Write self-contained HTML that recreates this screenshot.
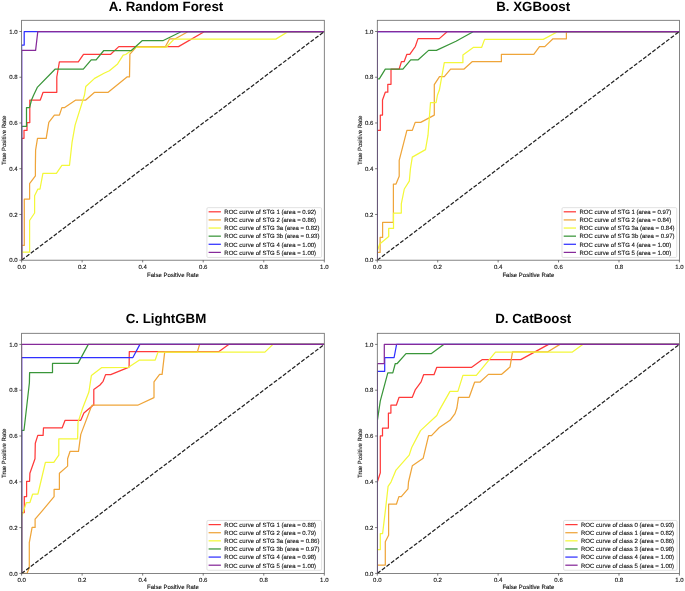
<!DOCTYPE html>
<html><head><meta charset="utf-8"><style>
html,body{margin:0;padding:0;background:#fff;}
svg{display:block;}
text{text-rendering:geometricPrecision;}
.t{font-family:"Liberation Sans",sans-serif;font-weight:bold;font-size:13.3px;fill:#000;}
.s{font-family:"Liberation Sans",sans-serif;font-size:6.03px;fill:#111;stroke:#111;stroke-width:0.12px;}
</style></head><body>
<svg width="685" height="591" viewBox="0 0 685 591">
<defs><clipPath id="cA"><rect x="21.6" y="20.3" width="302.7" height="239.9"/></clipPath><clipPath id="cB"><rect x="377.3" y="20.3" width="302.1" height="239.9"/></clipPath><clipPath id="cC"><rect x="21.6" y="333.3" width="302.7" height="240.1"/></clipPath><clipPath id="cD"><rect x="377.3" y="333.3" width="302.1" height="240.1"/></clipPath></defs>
<rect width="685" height="591" fill="#fff"/>
<g opacity="0.999">
<text x="166" y="11" class="t" text-anchor="middle">A. Random Forest</text>
<g clip-path="url(#cA)">
<polyline points="21.6,260.2 21.6,138.3 24,138.3 24,130.4 27,130.4 27,122.6 29.8,122.6 29.8,100 40.3,100 43.1,92.3 56.8,92.3 56.8,77 59.4,61.9 78.3,61.9 83.5,54.3 110.7,54.3 118.8,46.6 178.5,46.6 204.6,31.5 324.3,31.5" fill="none" stroke="#ff3a3a" stroke-width="1.25" stroke-linejoin="round" stroke-linecap="butt"/>
<polyline points="21.6,260.2 21.6,245.4 24.3,245.4 24.3,199 29.6,199 29.6,183.6 35.4,175.8 35.4,165 35.6,150.2 37.5,138.3 46.2,138.3 48.8,122.4 54.4,115.1 59.4,115.1 61.9,107.6 64.7,107.6 75.8,100 85.8,100 94.6,92.3 108.2,92.3 127,76.9 129.5,76.9 129.9,54.1 136.4,46.8 165.3,46.8 169.7,38.8 175.3,38.8 188.3,31.5 324.3,31.5" fill="none" stroke="#efa53a" stroke-width="1.25" stroke-linejoin="round" stroke-linecap="butt"/>
<polyline points="21.6,260.2 21.6,252 29.6,252 29.6,220.5 34.6,213 34.6,195.7 37.9,189 40,189 42.9,173.3 56.4,173.3 61.9,165.3 69.5,165.3 72,142.7 75.1,125.1 84.5,95 85.8,86.5 94.6,78.4 104,73.3 109.4,70.8 117.6,63.9 123.2,55.1 125.7,54.5 132,50.1 136.4,47 166.5,47 174.1,39.1 275.8,39.1 288.3,31.5 324.3,31.5" fill="none" stroke="#f3f83a" stroke-width="1.25" stroke-linejoin="round" stroke-linecap="butt"/>
<polyline points="21.6,260.2 21.6,126.4 26.5,126.4 26.5,107.6 29.6,107.6 31.5,100 33.7,95 37.5,87.1 55,69.2 83.3,69.2 91.2,59.8 96.1,59.8 103.8,50.5 131.4,50.5 142.1,40.7 162.8,40.7 181.6,31.5 324.3,31.5" fill="none" stroke="#3a963a" stroke-width="1.25" stroke-linejoin="round" stroke-linecap="butt"/>
<polyline points="21.6,260.2 21.6,45.1 24.2,45.1 24.2,31.5 324.3,31.5" fill="none" stroke="#3030ff" stroke-width="1.25" stroke-linejoin="round" stroke-linecap="butt"/>
<polyline points="21.6,260.2 21.6,50.4 35.6,50.4 37.8,31.5 324.3,31.5" fill="none" stroke="#862a9a" stroke-width="1.25" stroke-linejoin="round" stroke-linecap="butt"/>
<line x1="21.6" y1="260.2" x2="324.3" y2="31.5" stroke="#222" stroke-width="1.25" stroke-dasharray="4.02 1.73"/>
</g>
<rect x="21.6" y="20.3" width="302.7" height="239.9" fill="none" stroke="#666" stroke-width="0.8"/>
<line x1="21.6" y1="260.2" x2="21.6" y2="262.4" stroke="#444" stroke-width="0.7"/>
<text x="21.6" y="269" class="s" text-anchor="middle">0.0</text>
<line x1="19.4" y1="260.2" x2="21.6" y2="260.2" stroke="#444" stroke-width="0.7"/>
<text x="17.6" y="262.4" class="s" text-anchor="end">0.0</text>
<line x1="82.14" y1="260.2" x2="82.14" y2="262.4" stroke="#444" stroke-width="0.7"/>
<text x="82.14" y="269" class="s" text-anchor="middle">0.2</text>
<line x1="19.4" y1="214.46" x2="21.6" y2="214.46" stroke="#444" stroke-width="0.7"/>
<text x="17.6" y="216.66" class="s" text-anchor="end">0.2</text>
<line x1="142.68" y1="260.2" x2="142.68" y2="262.4" stroke="#444" stroke-width="0.7"/>
<text x="142.68" y="269" class="s" text-anchor="middle">0.4</text>
<line x1="19.4" y1="168.72" x2="21.6" y2="168.72" stroke="#444" stroke-width="0.7"/>
<text x="17.6" y="170.92" class="s" text-anchor="end">0.4</text>
<line x1="203.22" y1="260.2" x2="203.22" y2="262.4" stroke="#444" stroke-width="0.7"/>
<text x="203.22" y="269" class="s" text-anchor="middle">0.6</text>
<line x1="19.4" y1="122.98" x2="21.6" y2="122.98" stroke="#444" stroke-width="0.7"/>
<text x="17.6" y="125.18" class="s" text-anchor="end">0.6</text>
<line x1="263.76" y1="260.2" x2="263.76" y2="262.4" stroke="#444" stroke-width="0.7"/>
<text x="263.76" y="269" class="s" text-anchor="middle">0.8</text>
<line x1="19.4" y1="77.24" x2="21.6" y2="77.24" stroke="#444" stroke-width="0.7"/>
<text x="17.6" y="79.44" class="s" text-anchor="end">0.8</text>
<line x1="324.3" y1="260.2" x2="324.3" y2="262.4" stroke="#444" stroke-width="0.7"/>
<text x="324.3" y="269" class="s" text-anchor="middle">1.0</text>
<line x1="19.4" y1="31.5" x2="21.6" y2="31.5" stroke="#444" stroke-width="0.7"/>
<text x="17.6" y="33.7" class="s" text-anchor="end">1.0</text>
<text x="172.95" y="276.7" class="s" text-anchor="middle">False Positive Rate</text>
<text transform="translate(6.1 140.25) rotate(-90)" class="s" text-anchor="middle">True Positive Rate</text>
<rect x="206.9" y="207.65" width="114.7" height="49.8" rx="1.2" fill="#fff" fill-opacity="0.8" stroke="#d4d4d4" stroke-width="0.7"/>
<line x1="208.6" y1="211.8" x2="220.9" y2="211.8" stroke="#ff3a3a" stroke-width="1.25"/>
<text x="224.3" y="214.1" class="s">ROC curve of STG 1 (area = 0.92)</text>
<line x1="208.6" y1="219.92" x2="220.9" y2="219.92" stroke="#efa53a" stroke-width="1.25"/>
<text x="224.3" y="222.22" class="s">ROC curve of STG 2 (area = 0.86)</text>
<line x1="208.6" y1="228.04" x2="220.9" y2="228.04" stroke="#f3f83a" stroke-width="1.25"/>
<text x="224.3" y="230.34" class="s">ROC curve of STG 3a (area = 0.82)</text>
<line x1="208.6" y1="236.16" x2="220.9" y2="236.16" stroke="#3a963a" stroke-width="1.25"/>
<text x="224.3" y="238.46" class="s">ROC curve of STG 3b (area = 0.93)</text>
<line x1="208.6" y1="244.28" x2="220.9" y2="244.28" stroke="#3030ff" stroke-width="1.25"/>
<text x="224.3" y="246.58" class="s">ROC curve of STG 4 (area = 1.00)</text>
<line x1="208.6" y1="252.4" x2="220.9" y2="252.4" stroke="#862a9a" stroke-width="1.25"/>
<text x="224.3" y="254.7" class="s">ROC curve of STG 5 (area = 1.00)</text>
<text x="533.2" y="11" class="t" text-anchor="middle">B. XGBoost</text>
<g clip-path="url(#cB)">
<polyline points="377.3,260.2 377.3,130.4 380.3,130.4 380.3,115.1 382.5,115.1 382.5,100 385.3,92.2 387.8,92.2 387.8,84.3 391,84.3 391,69.2 399.1,69.2 401.4,61.7 404.1,61.7 406.9,54.3 409.8,54.3 415.4,46.3 418,38.6 439.3,38.6 447.4,31.5 679.4,31.5" fill="none" stroke="#ff3a3a" stroke-width="1.25" stroke-linejoin="round" stroke-linecap="butt"/>
<polyline points="377.3,260.2 377.3,252.4 380.1,252.4 380.1,237.4 382.6,237.4 382.6,222.3 393.4,222.3 393.4,184.1 396,184.1 399.2,176.3 399.2,160.3 406.9,130.4 412.3,130.4 415.2,122.4 420.7,122.4 434.3,115.1 434.3,84.6 439.5,76.7 444.3,76.7 450.6,69.2 463.8,69.2 472.1,61.7 501.4,61.7 501.4,54.3 533.8,54.3 539.5,46.6 544.8,46.6 553,38.8 566.4,38.8 566.4,31.5 679.4,31.5" fill="none" stroke="#efa53a" stroke-width="1.25" stroke-linejoin="round" stroke-linecap="butt"/>
<polyline points="377.3,260.2 377.3,251 379.7,243.9 388.7,236.5 388.7,228.4 393.5,228.4 393.5,213 401.3,213 401.3,203.9 404.3,189 409.3,181.2 410.4,169 412.3,157.1 425.5,149.6 428,135.2 430.5,102.5 436.1,102.5 437.5,95 439.3,90.3 444.3,62.7 462.9,62.7 462.9,54.9 473.6,47.3 481.7,47.3 484.6,39.4 543.3,39.4 558,31.5 679.4,31.5" fill="none" stroke="#f3f83a" stroke-width="1.25" stroke-linejoin="round" stroke-linecap="butt"/>
<polyline points="377.3,260.2 377.3,78.8 379.3,78.8 385.3,69.2 402.9,69.2 410.7,59.8 418.2,59.8 428.6,50.4 436.4,50.4 456,41.3 473.6,31.5 679.4,31.5" fill="none" stroke="#3a963a" stroke-width="1.25" stroke-linejoin="round" stroke-linecap="butt"/>
<polyline points="377.3,260.2 377.3,31.5 679.4,31.5" fill="none" stroke="#3030ff" stroke-width="1.25" stroke-linejoin="round" stroke-linecap="butt"/>
<polyline points="377.3,260.2 377.3,31.5 679.4,31.5" fill="none" stroke="#862a9a" stroke-width="1.25" stroke-linejoin="round" stroke-linecap="butt"/>
<line x1="377.3" y1="260.2" x2="679.4" y2="31.5" stroke="#222" stroke-width="1.25" stroke-dasharray="4.02 1.73"/>
</g>
<rect x="377.3" y="20.3" width="302.1" height="239.9" fill="none" stroke="#666" stroke-width="0.8"/>
<line x1="377.3" y1="260.2" x2="377.3" y2="262.4" stroke="#444" stroke-width="0.7"/>
<text x="377.3" y="269" class="s" text-anchor="middle">0.0</text>
<line x1="375.1" y1="260.2" x2="377.3" y2="260.2" stroke="#444" stroke-width="0.7"/>
<text x="373.3" y="262.4" class="s" text-anchor="end">0.0</text>
<line x1="437.72" y1="260.2" x2="437.72" y2="262.4" stroke="#444" stroke-width="0.7"/>
<text x="437.72" y="269" class="s" text-anchor="middle">0.2</text>
<line x1="375.1" y1="214.46" x2="377.3" y2="214.46" stroke="#444" stroke-width="0.7"/>
<text x="373.3" y="216.66" class="s" text-anchor="end">0.2</text>
<line x1="498.14" y1="260.2" x2="498.14" y2="262.4" stroke="#444" stroke-width="0.7"/>
<text x="498.14" y="269" class="s" text-anchor="middle">0.4</text>
<line x1="375.1" y1="168.72" x2="377.3" y2="168.72" stroke="#444" stroke-width="0.7"/>
<text x="373.3" y="170.92" class="s" text-anchor="end">0.4</text>
<line x1="558.56" y1="260.2" x2="558.56" y2="262.4" stroke="#444" stroke-width="0.7"/>
<text x="558.56" y="269" class="s" text-anchor="middle">0.6</text>
<line x1="375.1" y1="122.98" x2="377.3" y2="122.98" stroke="#444" stroke-width="0.7"/>
<text x="373.3" y="125.18" class="s" text-anchor="end">0.6</text>
<line x1="618.98" y1="260.2" x2="618.98" y2="262.4" stroke="#444" stroke-width="0.7"/>
<text x="618.98" y="269" class="s" text-anchor="middle">0.8</text>
<line x1="375.1" y1="77.24" x2="377.3" y2="77.24" stroke="#444" stroke-width="0.7"/>
<text x="373.3" y="79.44" class="s" text-anchor="end">0.8</text>
<line x1="679.4" y1="260.2" x2="679.4" y2="262.4" stroke="#444" stroke-width="0.7"/>
<text x="679.4" y="269" class="s" text-anchor="middle">1.0</text>
<line x1="375.1" y1="31.5" x2="377.3" y2="31.5" stroke="#444" stroke-width="0.7"/>
<text x="373.3" y="33.7" class="s" text-anchor="end">1.0</text>
<text x="528.35" y="276.7" class="s" text-anchor="middle">False Positive Rate</text>
<text transform="translate(361.8 140.25) rotate(-90)" class="s" text-anchor="middle">True Positive Rate</text>
<rect x="562" y="207.65" width="114.7" height="49.8" rx="1.2" fill="#fff" fill-opacity="0.8" stroke="#d4d4d4" stroke-width="0.7"/>
<line x1="563.7" y1="211.8" x2="576" y2="211.8" stroke="#ff3a3a" stroke-width="1.25"/>
<text x="579.4" y="214.1" class="s">ROC curve of STG 1 (area = 0.97)</text>
<line x1="563.7" y1="219.92" x2="576" y2="219.92" stroke="#efa53a" stroke-width="1.25"/>
<text x="579.4" y="222.22" class="s">ROC curve of STG 2 (area = 0.84)</text>
<line x1="563.7" y1="228.04" x2="576" y2="228.04" stroke="#f3f83a" stroke-width="1.25"/>
<text x="579.4" y="230.34" class="s">ROC curve of STG 3a (area = 0.84)</text>
<line x1="563.7" y1="236.16" x2="576" y2="236.16" stroke="#3a963a" stroke-width="1.25"/>
<text x="579.4" y="238.46" class="s">ROC curve of STG 3b (area = 0.97)</text>
<line x1="563.7" y1="244.28" x2="576" y2="244.28" stroke="#3030ff" stroke-width="1.25"/>
<text x="579.4" y="246.58" class="s">ROC curve of STG 4 (area = 1.00)</text>
<line x1="563.7" y1="252.4" x2="576" y2="252.4" stroke="#862a9a" stroke-width="1.25"/>
<text x="579.4" y="254.7" class="s">ROC curve of STG 5 (area = 1.00)</text>
<text x="166" y="322.9" class="t" text-anchor="middle">C. LightGBM</text>
<g clip-path="url(#cC)">
<polyline points="21.6,573.4 21.6,512.5 24.3,512.5 24.3,496.6 26.6,496.6 26.6,481.3 29.6,481.3 29.9,473.3 35,458.8 35.3,443.2 37.8,435.4 43.1,435.4 43.5,427.8 62.2,427.8 65.1,420.3 80.8,420.3 83.9,413 92.8,405.5 93.8,405.2 93.8,389.5 100,385 103.1,381.3 105.6,374.6 110.7,374.6 129.1,367.1 129.3,351.6 219,351.6 228.7,344.4 324.3,344.4" fill="none" stroke="#ff3a3a" stroke-width="1.25" stroke-linejoin="round" stroke-linecap="butt"/>
<polyline points="21.6,573.4 27.1,573.4 29.3,567.5 29.3,542.6 32.1,527.4 35.1,527.4 35.1,519.1 42,511.1 54.1,496.6 54.1,489.3 59.4,489.3 59.4,473.3 67.6,466.1 67.6,458.8 70.1,451.3 78.5,451.3 80.8,434.4 90.8,408 92.1,405.2 137.7,405.2 154,397.6 154,381.9 159.6,374.4 162.1,374.4 164.7,352.1 197.3,352.1 199.6,344.4 324.3,344.4" fill="none" stroke="#efa53a" stroke-width="1.25" stroke-linejoin="round" stroke-linecap="butt"/>
<polyline points="21.6,573.4 21.6,517 26.3,502.5 29.9,502.5 32.6,494.2 37.9,494.2 41,481 45.4,462.4 53.8,462.4 58.8,455.1 58.8,438.8 77.6,438.8 78,422.4 82.7,408 88.9,392 91.4,375.4 101.5,367.7 128.2,367.5 139.5,360 155.2,360 158,352.1 264.9,352.1 272.9,344.4 324.3,344.4" fill="none" stroke="#f3f83a" stroke-width="1.25" stroke-linejoin="round" stroke-linecap="butt"/>
<polyline points="21.6,573.4 21.6,430.3 24,430.3 29.4,382.8 29.6,372.5 52.5,372.5 52.5,363.4 78,363.4 88.3,344.4 324.3,344.4" fill="none" stroke="#3a963a" stroke-width="1.25" stroke-linejoin="round" stroke-linecap="butt"/>
<polyline points="21.6,573.4 21.6,357.5 132.9,357.5 139.9,344.4 324.3,344.4" fill="none" stroke="#3030ff" stroke-width="1.25" stroke-linejoin="round" stroke-linecap="butt"/>
<polyline points="21.6,573.4 21.6,344.4 324.3,344.4" fill="none" stroke="#862a9a" stroke-width="1.25" stroke-linejoin="round" stroke-linecap="butt"/>
<line x1="21.6" y1="573.4" x2="324.3" y2="344.4" stroke="#222" stroke-width="1.25" stroke-dasharray="4.02 1.73"/>
</g>
<rect x="21.6" y="333.3" width="302.7" height="240.1" fill="none" stroke="#666" stroke-width="0.8"/>
<line x1="21.6" y1="573.4" x2="21.6" y2="575.6" stroke="#444" stroke-width="0.7"/>
<text x="21.6" y="581.85" class="s" text-anchor="middle">0.0</text>
<line x1="19.4" y1="573.4" x2="21.6" y2="573.4" stroke="#444" stroke-width="0.7"/>
<text x="17.6" y="575.6" class="s" text-anchor="end">0.0</text>
<line x1="82.14" y1="573.4" x2="82.14" y2="575.6" stroke="#444" stroke-width="0.7"/>
<text x="82.14" y="581.85" class="s" text-anchor="middle">0.2</text>
<line x1="19.4" y1="527.6" x2="21.6" y2="527.6" stroke="#444" stroke-width="0.7"/>
<text x="17.6" y="529.8" class="s" text-anchor="end">0.2</text>
<line x1="142.68" y1="573.4" x2="142.68" y2="575.6" stroke="#444" stroke-width="0.7"/>
<text x="142.68" y="581.85" class="s" text-anchor="middle">0.4</text>
<line x1="19.4" y1="481.8" x2="21.6" y2="481.8" stroke="#444" stroke-width="0.7"/>
<text x="17.6" y="484" class="s" text-anchor="end">0.4</text>
<line x1="203.22" y1="573.4" x2="203.22" y2="575.6" stroke="#444" stroke-width="0.7"/>
<text x="203.22" y="581.85" class="s" text-anchor="middle">0.6</text>
<line x1="19.4" y1="436" x2="21.6" y2="436" stroke="#444" stroke-width="0.7"/>
<text x="17.6" y="438.2" class="s" text-anchor="end">0.6</text>
<line x1="263.76" y1="573.4" x2="263.76" y2="575.6" stroke="#444" stroke-width="0.7"/>
<text x="263.76" y="581.85" class="s" text-anchor="middle">0.8</text>
<line x1="19.4" y1="390.2" x2="21.6" y2="390.2" stroke="#444" stroke-width="0.7"/>
<text x="17.6" y="392.4" class="s" text-anchor="end">0.8</text>
<line x1="324.3" y1="573.4" x2="324.3" y2="575.6" stroke="#444" stroke-width="0.7"/>
<text x="324.3" y="581.85" class="s" text-anchor="middle">1.0</text>
<line x1="19.4" y1="344.4" x2="21.6" y2="344.4" stroke="#444" stroke-width="0.7"/>
<text x="17.6" y="346.6" class="s" text-anchor="end">1.0</text>
<text x="172.95" y="589.35" class="s" text-anchor="middle">False Positive Rate</text>
<text transform="translate(6.1 453.35) rotate(-90)" class="s" text-anchor="middle">True Positive Rate</text>
<rect x="206.9" y="520.45" width="114.7" height="49.8" rx="1.2" fill="#fff" fill-opacity="0.8" stroke="#d4d4d4" stroke-width="0.7"/>
<line x1="208.6" y1="524.6" x2="220.9" y2="524.6" stroke="#ff3a3a" stroke-width="1.25"/>
<text x="224.3" y="526.9" class="s">ROC curve of STG 1 (area = 0.88)</text>
<line x1="208.6" y1="532.72" x2="220.9" y2="532.72" stroke="#efa53a" stroke-width="1.25"/>
<text x="224.3" y="535.02" class="s">ROC curve of STG 2 (area = 0.79)</text>
<line x1="208.6" y1="540.84" x2="220.9" y2="540.84" stroke="#f3f83a" stroke-width="1.25"/>
<text x="224.3" y="543.14" class="s">ROC curve of STG 3a (area = 0.86)</text>
<line x1="208.6" y1="548.96" x2="220.9" y2="548.96" stroke="#3a963a" stroke-width="1.25"/>
<text x="224.3" y="551.26" class="s">ROC curve of STG 3b (area = 0.97)</text>
<line x1="208.6" y1="557.08" x2="220.9" y2="557.08" stroke="#3030ff" stroke-width="1.25"/>
<text x="224.3" y="559.38" class="s">ROC curve of STG 4 (area = 0.98)</text>
<line x1="208.6" y1="565.2" x2="220.9" y2="565.2" stroke="#862a9a" stroke-width="1.25"/>
<text x="224.3" y="567.5" class="s">ROC curve of STG 5 (area = 1.00)</text>
<text x="533.2" y="322.9" class="t" text-anchor="middle">D. CatBoost</text>
<g clip-path="url(#cD)">
<polyline points="377.3,573.4 377.3,482 380.3,472.7 380.3,435.9 382.5,435.9 382.5,428.1 388.4,428.1 388.4,413 390.9,413 390.9,405.2 396.3,405.2 399.1,397.3 412.3,397.3 415.4,389.5 421.1,381.9 423.6,374.7 434,374.7 436.8,367.3 471.7,367.3 482.4,359.6 520.7,359.6 548.6,344.4 679.4,344.4" fill="none" stroke="#ff3a3a" stroke-width="1.25" stroke-linejoin="round" stroke-linecap="butt"/>
<polyline points="377.3,573.4 377.3,565 385.3,565 385.3,541.8 388.6,535.2 388.6,504.2 396.4,504.2 398.9,496.6 401.3,496.6 408,488.8 408.5,482 412.3,465.8 423.2,458.2 428.6,435.6 431.5,435.6 439.3,427.5 450,420.3 455,413.6 456.9,408 458.5,397.3 469.2,397.3 474.6,382.2 479.9,382.2 488.4,374.4 501.4,374.4 510,367.1 512.5,351.8 547.9,351.8 559.9,344.4 679.4,344.4" fill="none" stroke="#efa53a" stroke-width="1.25" stroke-linejoin="round" stroke-linecap="butt"/>
<polyline points="377.3,573.4 377.3,549.6 380.3,549.6 380.3,533.5 382.6,533.5 385.6,508.7 388.1,486.3 391,482.1 396,470.1 409.2,455.1 411.7,447.5 420.5,430.6 436.8,415.5 438.7,411.4 450,391.4 457.9,391.4 462.9,375.4 476.3,375.4 495.5,352.1 572.4,352.1 582.7,344.4 679.4,344.4" fill="none" stroke="#f3f83a" stroke-width="1.25" stroke-linejoin="round" stroke-linecap="butt"/>
<polyline points="377.3,573.4 377.3,421 380.3,400.8 387.8,372.9 392.8,372.9 395.3,363.5 397.2,363.5 406,353.7 431.1,353.7 443.7,344.4 679.4,344.4" fill="none" stroke="#3a963a" stroke-width="1.25" stroke-linejoin="round" stroke-linecap="butt"/>
<polyline points="377.3,573.4 377.3,371.3 384.7,371.3 384.7,357.5 394.1,357.5 396.6,344.4 679.4,344.4" fill="none" stroke="#3030ff" stroke-width="1.25" stroke-linejoin="round" stroke-linecap="butt"/>
<polyline points="377.3,573.4 377.3,363.5 384.3,363.5 384.3,344.4 679.4,344.4" fill="none" stroke="#862a9a" stroke-width="1.25" stroke-linejoin="round" stroke-linecap="butt"/>
<line x1="377.3" y1="573.4" x2="679.4" y2="344.4" stroke="#222" stroke-width="1.25" stroke-dasharray="4.02 1.73"/>
</g>
<rect x="377.3" y="333.3" width="302.1" height="240.1" fill="none" stroke="#666" stroke-width="0.8"/>
<line x1="377.3" y1="573.4" x2="377.3" y2="575.6" stroke="#444" stroke-width="0.7"/>
<text x="377.3" y="581.85" class="s" text-anchor="middle">0.0</text>
<line x1="375.1" y1="573.4" x2="377.3" y2="573.4" stroke="#444" stroke-width="0.7"/>
<text x="373.3" y="575.6" class="s" text-anchor="end">0.0</text>
<line x1="437.72" y1="573.4" x2="437.72" y2="575.6" stroke="#444" stroke-width="0.7"/>
<text x="437.72" y="581.85" class="s" text-anchor="middle">0.2</text>
<line x1="375.1" y1="527.6" x2="377.3" y2="527.6" stroke="#444" stroke-width="0.7"/>
<text x="373.3" y="529.8" class="s" text-anchor="end">0.2</text>
<line x1="498.14" y1="573.4" x2="498.14" y2="575.6" stroke="#444" stroke-width="0.7"/>
<text x="498.14" y="581.85" class="s" text-anchor="middle">0.4</text>
<line x1="375.1" y1="481.8" x2="377.3" y2="481.8" stroke="#444" stroke-width="0.7"/>
<text x="373.3" y="484" class="s" text-anchor="end">0.4</text>
<line x1="558.56" y1="573.4" x2="558.56" y2="575.6" stroke="#444" stroke-width="0.7"/>
<text x="558.56" y="581.85" class="s" text-anchor="middle">0.6</text>
<line x1="375.1" y1="436" x2="377.3" y2="436" stroke="#444" stroke-width="0.7"/>
<text x="373.3" y="438.2" class="s" text-anchor="end">0.6</text>
<line x1="618.98" y1="573.4" x2="618.98" y2="575.6" stroke="#444" stroke-width="0.7"/>
<text x="618.98" y="581.85" class="s" text-anchor="middle">0.8</text>
<line x1="375.1" y1="390.2" x2="377.3" y2="390.2" stroke="#444" stroke-width="0.7"/>
<text x="373.3" y="392.4" class="s" text-anchor="end">0.8</text>
<line x1="679.4" y1="573.4" x2="679.4" y2="575.6" stroke="#444" stroke-width="0.7"/>
<text x="679.4" y="581.85" class="s" text-anchor="middle">1.0</text>
<line x1="375.1" y1="344.4" x2="377.3" y2="344.4" stroke="#444" stroke-width="0.7"/>
<text x="373.3" y="346.6" class="s" text-anchor="end">1.0</text>
<text x="528.35" y="589.35" class="s" text-anchor="middle">False Positive Rate</text>
<text transform="translate(361.8 453.35) rotate(-90)" class="s" text-anchor="middle">True Positive Rate</text>
<rect x="563.61" y="520.45" width="113.49" height="49.8" rx="1.2" fill="#fff" fill-opacity="0.8" stroke="#d4d4d4" stroke-width="0.7"/>
<line x1="565.31" y1="524.6" x2="577.61" y2="524.6" stroke="#ff3a3a" stroke-width="1.25"/>
<text x="581.01" y="526.9" class="s">ROC curve of class 0 (area = 0.93)</text>
<line x1="565.31" y1="532.72" x2="577.61" y2="532.72" stroke="#efa53a" stroke-width="1.25"/>
<text x="581.01" y="535.02" class="s">ROC curve of class 1 (area = 0.82)</text>
<line x1="565.31" y1="540.84" x2="577.61" y2="540.84" stroke="#f3f83a" stroke-width="1.25"/>
<text x="581.01" y="543.14" class="s">ROC curve of class 2 (area = 0.86)</text>
<line x1="565.31" y1="548.96" x2="577.61" y2="548.96" stroke="#3a963a" stroke-width="1.25"/>
<text x="581.01" y="551.26" class="s">ROC curve of class 3 (area = 0.98)</text>
<line x1="565.31" y1="557.08" x2="577.61" y2="557.08" stroke="#3030ff" stroke-width="1.25"/>
<text x="581.01" y="559.38" class="s">ROC curve of class 4 (area = 1.00)</text>
<line x1="565.31" y1="565.2" x2="577.61" y2="565.2" stroke="#862a9a" stroke-width="1.25"/>
<text x="581.01" y="567.5" class="s">ROC curve of class 5 (area = 1.00)</text>
</g>
</svg>
</body></html>
